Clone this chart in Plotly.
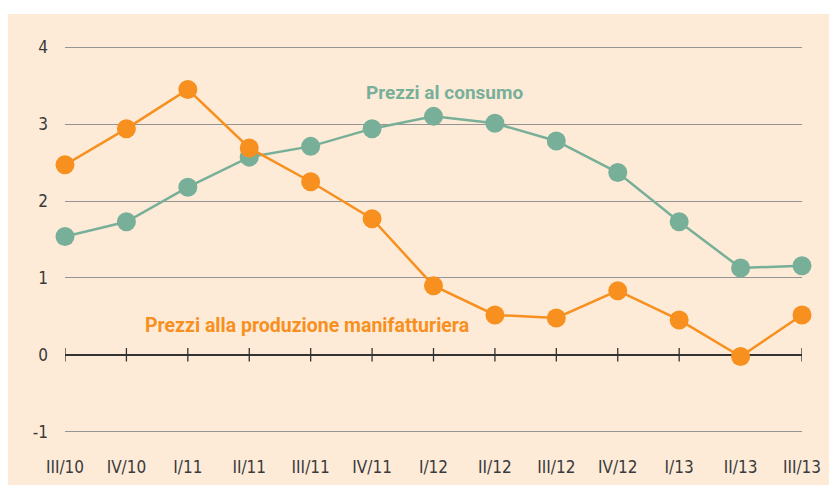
import plotly.graph_objects as go

categories = ["III/10", "IV/10", "I/11", "II/11", "III/11", "IV/11", "I/12",
              "II/12", "III/12", "IV/12", "I/13", "II/13", "III/13"]
prezzi_consumo = [1.54, 1.73, 2.18, 2.57, 2.71, 2.94, 3.10, 3.01, 2.78, 2.37, 1.73, 1.13, 1.16]
prezzi_produzione = [2.47, 2.94, 3.45, 2.69, 2.25, 1.77, 0.90, 0.52, 0.48, 0.835, 0.455, -0.02, 0.52]
y_ticks = [-1, 0, 1, 2, 3, 4]

GREEN = "#78AF98"
ORANGE = "#F7901E"
PANEL = "#FDEBD8"

# page has an 8px body margin, so the figure is offset by (8, 8)
W, H = 829, 477
L, R, T, B = 57, 35, 16, 30
x_idx = list(range(len(categories)))

fig = go.Figure()
fig.add_trace(go.Scatter(
    x=x_idx, y=prezzi_consumo, mode="lines+markers",
    line=dict(color=GREEN, width=2.5),
    marker=dict(color=GREEN, size=19),
    cliponaxis=False, showlegend=False))
fig.add_trace(go.Scatter(
    x=x_idx, y=prezzi_produzione, mode="lines+markers",
    line=dict(color=ORANGE, width=2.5),
    marker=dict(color=ORANGE, size=19),
    cliponaxis=False, showlegend=False))

pw = W - L - R
ph = H - T - B
shapes = [dict(type="rect", xref="paper", yref="paper",
               x0=-L / pw, x1=(W - L) / pw + 0.01,
               y0=-(B + 2) / ph, y1=1 + (T - 6) / ph,
               fillcolor=PANEL, line=dict(width=0), layer="below")]
for i in x_idx:
    shapes.append(dict(type="line", xref="x", yref="y", x0=i, x1=i,
                       y0=-0.085, y1=0.09, line=dict(color="#333333", width=1.3),
                       layer="between"))

TICKFONT = dict(family="DejaVu Sans Condensed, Liberation Sans", size=17, color="#3a3a3a")

fig.update_layout(
    width=W, height=H,
    margin=dict(l=L, r=R, t=T, b=B, autoexpand=False),
    paper_bgcolor="white", plot_bgcolor="rgba(0,0,0,0)",
    shapes=shapes,
    xaxis=dict(range=[0, 12], tickmode="array", tickvals=x_idx, ticktext=categories,
               showgrid=False, zeroline=False, showline=False, ticks="",
               automargin=False, ticklabelstandoff=0, tickfont=TICKFONT),
    yaxis=dict(range=[-1.3, 4.3], tickmode="array", tickvals=y_ticks,
               ticktext=[str(v) for v in y_ticks],
               showgrid=True, gridcolor="#949494", gridwidth=1.4,
               zeroline=True, zerolinecolor="#333333", zerolinewidth=1.5,
               showline=False, ticks="", automargin=False,
               ticklabelstandoff=16, tickfont=TICKFONT),
    annotations=[
        dict(x=6.18, y=3.41, xref="x", yref="y", text="<b>Prezzi al consumo</b>",
             showarrow=False, font=dict(family="Roboto, Liberation Sans", size=19, color=GREEN)),
        dict(x=3.94, y=0.38, xref="x", yref="y",
             text="<b>Prezzi alla produzione manifatturiera</b>",
             showarrow=False, font=dict(family="Roboto, Liberation Sans", size=19.5, color=ORANGE)),
    ],
)

fig.write_html("out.html")
